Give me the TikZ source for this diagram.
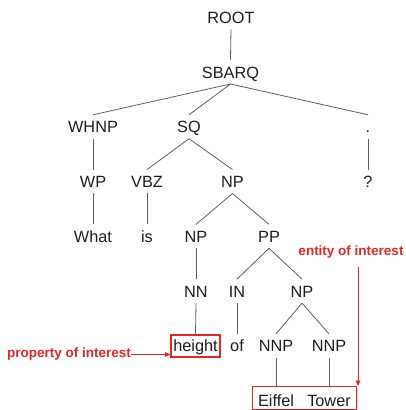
\documentclass[tikz,border=0pt]{standalone}
\usepackage{fontspec}
\setmainfont{Liberation Sans}
\usetikzlibrary{fit,shadows,arrows.meta,backgrounds}
\definecolor{hl}{RGB}{228,38,38}
\definecolor{tx}{RGB}{30,30,30}
\definecolor{ln}{RGB}{95,95,95}
\begin{document}
\begin{tikzpicture}[x=1pt,y=1pt,
  tn/.style={anchor=base, inner sep=0pt, text height=17.8pt, text depth=5.7pt, text=tx,
    font=\fontsize{16.3pt}{19pt}\selectfont},
  edge/.style={draw=ln, line width=0.8pt},
  redbox/.style={draw=hl, fill=white, line width=1.3pt,
    drop shadow={shadow xshift=1.3pt, shadow yshift=-1.3pt, opacity=0.35}},
  note/.style={text=hl, inner sep=0pt, font=\fontsize{13.5pt}{16pt}\selectfont\bfseries},
  redarrow/.style={draw=hl, line width=1pt, -{Triangle[length=5.5pt,width=4.5pt]}}]
\useasboundingbox (0,0) rectangle (405,410);
% levels (baselines)
\def\LA{386.7}\def\LB{331.9}\def\LC{277.2}\def\LD{222.4}
\def\LE{167.6}\def\LF{112.8}\def\LG{58.1}\def\LH{3.3}
\node[tn] (root) at (231,\LA) {ROOT};
\node[tn] (sbarq) at (230.5,\LB) {SBARQ};
\node[tn] (whnp) at (93,\LC) {WHNP};
\node[tn] (sq) at (189,\LC) {SQ};
\node[tn] (dot) at (368,\LC) {.};
\node[tn] (wp) at (93,\LD) {WP};
\node[tn] (vbz) at (147,\LD) {VBZ};
\node[tn] (npa) at (232.5,\LD) {NP};
\node[tn] (q) at (368,\LD) {?};
\node[tn] (what) at (93,\LE) {What};
\node[tn] (is) at (147,\LE) {is};
\node[tn] (npb) at (196,\LE) {NP};
\node[tn] (pp) at (269,\LE) {PP};
\node[tn] (nn) at (196,\LF) {NN};
\node[tn] (inn) at (237,\LF) {IN};
\node[tn] (npc) at (302,\LF) {NP};
\node[tn, redbox, inner xsep=2.2pt, text height=17pt, text depth=5.2pt] (height) at (195.5,\LG) {height};
\node[tn] (of) at (237,\LG) {of};
\node[tn] (nnpa) at (276,\LG) {NNP};
\node[tn] (nnpb) at (329,\LG) {NNP};
\node[tn, text height=19.7pt, text depth=2.5pt] (eiffel) at (276,\LH) {Eiffel};
\node[tn, text height=19.7pt, text depth=2.5pt] (tower) at (329,\LH) {Tower};
\begin{scope}[on background layer]
\node[redbox, fit=(eiffel)(tower), inner xsep=5.5pt, inner ysep=0pt] (ebox) {};
\end{scope}
% edges
\draw[edge] (root.south) -- (sbarq.north);
\draw[edge] (sbarq.south) -- (whnp.north);
\draw[edge] (sbarq.south) -- (sq.north);
\draw[edge] (sbarq.south) -- (dot.north);
\draw[edge] (whnp.south) -- (wp.north);
\draw[edge] (sq.south) -- (vbz.north);
\draw[edge] (sq.south) -- (npa.north);
\draw[edge] (dot.south) -- (q.north);
\draw[edge] (wp.south) -- (what.north);
\draw[edge] (vbz.south) -- (is.north);
\draw[edge] (npa.south) -- (npb.north);
\draw[edge] (npa.south) -- (pp.north);
\draw[edge] (npb.south) -- (nn.north);
\draw[edge] (pp.south) -- (inn.north);
\draw[edge] (pp.south) -- (npc.north);
\draw[edge] (nn.south) -- (height.north);
\draw[edge] (inn.south) -- (of.north);
\draw[edge] (npc.south) -- (nnpa.north);
\draw[edge] (npc.south) -- (nnpb.north);
\draw[edge] (nnpa.south) -- (eiffel.north);
\draw[edge] (nnpb.south) -- (tower.north);
% annotations
\node[note, anchor=base] (ent) at (351,154) {entity of interest};
\coordinate (etop) at (358,143);
\draw[redarrow] (etop) -- (etop |- ebox.north);
\node[note, anchor=base west, text height=7pt, text depth=0pt] (prop) at (7,52) {property of interest};
\draw[redarrow] (prop.east) -- (prop.east -| height.west);
\end{tikzpicture}
\end{document}
